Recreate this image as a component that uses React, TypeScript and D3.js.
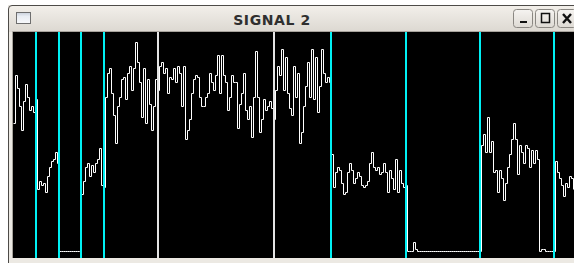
import { useMemo } from "react";
import * as d3 from "d3";

const TITLE = "SIGNAL 2";

// one sample per step, value 0-100 (0 = flat baseline)
const SIGNAL = [
  // segment 1
  58, 80, 74, 66, 55, 68, 76, 70, 64, 66, 63, 69,
  // segment 2
  28, 32, 30, 31, 27, 34, 38, 41, 42, 45, 40,
  // segment 3 (flat)
  0, 0, 0, 0, 0, 0, 0, 0, 0, 0, 0,
  // segment 4
  26, 32, 38, 40, 34, 39, 36, 40, 42, 47, 30, 29,
  // segment 5
  70, 81, 83, 72, 62, 49, 66, 70, 78, 79, 69, 81, 84, 73, 83, 95, 86, 77, 61, 83,
  58, 78, 67, 55, 66, 78, 73, 84, 86, 81, 83, 72, 79, 78, 83, 77, 84, 81, 66, 84,
  51, 55, 60, 72, 78, 80, 79, 70, 66, 66, 70, 72, 81, 77, 73, 80, 89, 72, 89, 80,
  77, 64, 70, 80, 77, 77, 56, 67, 72, 81, 64, 60, 66, 52, 70, 91, 70, 54, 60, 69,
  64, 66, 68, 65, 60, 73, 84, 80, 92, 73, 88, 72, 65, 62, 84, 70, 81, 49, 54, 66,
  75, 86, 70, 92, 69, 88, 63, 75, 92, 81, 77, 79, 77,
  // segment 6
  44, 29, 36, 38, 37, 31, 26, 27, 36, 40, 37, 31, 33, 36, 34, 30, 29, 30, 32, 40,
  45, 38, 37, 38, 35, 36, 40, 36, 27, 37, 33, 28, 42, 27, 37, 31, 29, 30,
  // segment 7 (flat with blip)
  0, 0, 0, 4, 1, 0, 0, 0, 0, 0, 0, 0, 0, 0, 0, 0, 0, 0, 0, 0,
  0, 0, 0, 0, 0, 0, 0, 0, 0, 0, 0, 0, 0, 0, 0, 0, 0,
  // segment 8
  48, 53, 45, 61, 45, 50, 36, 37, 27, 37, 33, 23, 31, 38, 44, 51, 58, 51, 35, 48,
  45, 40, 48, 47, 38, 46, 40, 46, 42, 0, 1, 1, 0, 0, 0, 0, 0,
  // segment 9
  41, 36, 33, 30, 25, 31, 29, 34, 33, 28,
];

// marker positions in sample units
const CYAN_MARKERS = [11.5, 23, 34, 45.5, 159, 196.5, 233.5, 270.5];
const WHITE_MARKERS = [72.5, 130.5];

const W = 574;
const H = 263;
const plot = { left: 13, top: 32, right: 574, bottom: 258 };

export default function App() {
  const x = useMemo(
    () => d3.scaleLinear().domain([0, SIGNAL.length - 1]).range([13.5, 573.5]),
    []
  );
  const y = useMemo(() => d3.scaleLinear().domain([0, 100]).range([251.5, 31.5]), []);

  const path = useMemo(() => {
    const line = d3
      .line<number>()
      .x((_, i) => x(i))
      .y((d) => Math.round(y(d) - 0.5) + 0.5)
      .curve(d3.curveStepAfter);
    return line(SIGNAL) ?? "";
  }, [x, y]);

  const mx = (m: number) => Math.round(x(m) - 0.5);

  return (
    <svg
      width={W}
      height={H}
      style={{ position: "fixed", left: 0, top: 0, display: "block" }}
    >
      <defs>
        <linearGradient id="titlebar" x1="0" y1="0" x2="0" y2="1">
          <stop offset="0%" stopColor="#f2efea" />
          <stop offset="100%" stopColor="#dcd8d1" />
        </linearGradient>
        <linearGradient id="btn" x1="0" y1="0" x2="0" y2="1">
          <stop offset="0%" stopColor="#f6f4f1" />
          <stop offset="100%" stopColor="#dedad4" />
        </linearGradient>
        <linearGradient id="icon" x1="0" y1="0" x2="0" y2="1">
          <stop offset="0%" stopColor="#c9d0db" />
          <stop offset="35%" stopColor="#e9edf3" />
          <stop offset="100%" stopColor="#f8f9fb" />
        </linearGradient>
      </defs>

      <rect width={W} height={H} fill="#ffffff" />

      {/* window frame */}
      <rect x={8} y={5} width={W} height={H} fill="#ece9e3" />
      <rect x={9} y={6} width={W} height={26} fill="url(#titlebar)" />
      <path d={`M8.5,${H} V9 Q8.5,5.5 12,5.5 H${W}`} fill="none" stroke="#4d4b48" />

      {/* title icon */}
      <rect x={16.5} y={12.5} width={14} height={11} fill="url(#icon)" stroke="#6e6e6e" />

      <text
        x={272}
        y={25}
        textAnchor="middle"
        fontFamily="DejaVu Sans, sans-serif"
        fontWeight="bold"
        fontSize={14}
        letterSpacing={0.6}
        fill="#2f2f2f"
      >
        {TITLE}
      </text>

      {/* window buttons */}
      <g>
        <rect x={513.5} y={9.5} width={19} height={18} rx={3} fill="url(#btn)" stroke="#8a8782" />
        <rect x={520} y={21} width={7} height={2} fill="#111" />
        <rect x={535.5} y={9.5} width={19} height={18} rx={3} fill="url(#btn)" stroke="#8a8782" />
        <rect x={541.5} y={13.5} width={8} height={9} fill="none" stroke="#111" strokeWidth={1.5} />
        <rect x={557.5} y={9.5} width={19} height={18} rx={3} fill="url(#btn)" stroke="#8a8782" />
        <path d="M563,14 L571,23 M571,14 L563,23" stroke="#111" strokeWidth={2.4} />
      </g>

      {/* plot area */}
      <rect
        x={plot.left}
        y={plot.top}
        width={plot.right - plot.left}
        height={plot.bottom - plot.top}
        fill="#000"
      />
      <path
        d={`M12.5,${plot.bottom} V31.5 H${W}`}
        fill="none"
        stroke="#a7a39c"
      />

      {/* signal trace */}
      <path d={path} fill="none" stroke="#ffffff" strokeWidth={1} />

      {/* markers */}
      {WHITE_MARKERS.map((m, i) => (
        <line
          key={`w${i}`}
          x1={mx(m)}
          x2={mx(m)}
          y1={plot.top}
          y2={plot.bottom}
          stroke="#e4e4e4"
          strokeWidth={2}
        />
      ))}
      {CYAN_MARKERS.map((m, i) => (
        <line
          key={`c${i}`}
          x1={mx(m)}
          x2={mx(m)}
          y1={plot.top}
          y2={plot.bottom}
          stroke="#00f0f4"
          strokeWidth={2}
        />
      ))}
    </svg>
  );
}
